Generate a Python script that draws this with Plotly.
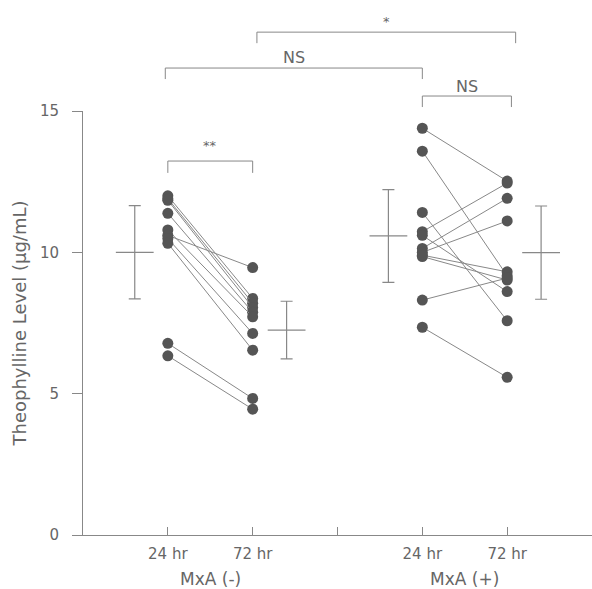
import plotly.graph_objects as go

# ---- data ----
neg_24 = [12.0, 11.9, 11.84, 11.38, 10.79, 10.6, 10.49, 10.32, 6.78, 6.34]
neg_72 = [8.37, 8.2, 8.05, 7.88, 7.72, 9.46, 7.13, 6.54, 4.83, 4.45]
pos_24 = [14.39, 13.58, 11.41, 10.73, 10.14, 10.0, 10.6, 9.85, 9.9, 8.31, 7.35]
pos_72 = [12.52, 9.17, 7.58, 12.45, 11.91, 11.11, 8.61, 9.02, 9.31, 9.09, 5.58]

x_pos = [1, 2, 4, 5]                      # 24 hr / 72 hr positions
tick_vals = [1, 2, 3, 4, 5, 6]
tick_text = ["24 hr", "72 hr", "", "24 hr", "72 hr", ""]
group_labels = ["MxA (-)", "MxA (+)"]
group_centers = [1.5, 4.5]

# summary (mean ± SD) bars, drawn beside each column
sum_x = [0.61, 2.4, 3.6, 5.4]
sum_mean = [10.0, 7.25, 10.58, 9.99]
sum_sd = [1.65, 1.02, 1.64, 1.65]

# significance brackets: (x0, x1, y_top, y_leg, label, label_y)
brackets = [
    (2.05, 5.1, 17.79, 17.40, "*", 18.15),
    (0.97, 4.0, 16.52, 16.13, "NS", 16.91),
    (4.0, 5.05, 15.53, 15.14, "NS", 15.88),
    (1.0, 2.0, 13.23, 12.81, "**", 13.78),
]

GRAY_TXT = "#666666"
GRAY_LN = "#888888"
DOT = "#555555"
FONT = "DejaVu Sans"

fig = go.Figure()

def add_group(xa, xb, a, b):
    for ya, yb in zip(a, b):
        fig.add_trace(go.Scatter(x=[xa, xb], y=[ya, yb], mode="lines+markers",
                                 line=dict(color=GRAY_LN, width=1),
                                 marker=dict(color=DOT, size=11),
                                 showlegend=False, hoverinfo="skip"))

add_group(x_pos[0], x_pos[1], neg_24, neg_72)
add_group(x_pos[2], x_pos[3], pos_24, pos_72)

fig.add_trace(go.Scatter(x=sum_x, y=sum_mean, mode="markers",
                         marker=dict(symbol="line-ew", size=27,
                                     line=dict(color=GRAY_LN, width=1.2)),
                         error_y=dict(type="data", array=sum_sd, visible=True,
                                      color=GRAY_LN, thickness=1.2, width=6),
                         showlegend=False, hoverinfo="skip"))

YMAX = 15.0
for x0, x1, yt, yl, lab, ly in brackets:
    fig.add_shape(type="path",
                  path=f"M {x0} {yl/YMAX} L {x0} {yt/YMAX} L {x1} {yt/YMAX} L {x1} {yl/YMAX}",
                  xref="x", yref="paper", line=dict(color=GRAY_LN, width=1))
    fig.add_annotation(x=(x0 + x1) / 2, y=ly / YMAX, xref="x", yref="paper",
                       text=lab, showarrow=False, yanchor="middle",
                       font=dict(family=FONT, size=16 if lab == "NS" else 13, color=GRAY_TXT))

for gx, gl in zip(group_centers, group_labels):
    fig.add_annotation(x=gx, y=-0.104, xref="x", yref="paper", text=gl,
                       showarrow=False, yanchor="middle",
                       font=dict(family=FONT, size=17, color=GRAY_TXT))

fig.update_layout(
    width=592, height=589,
    margin=dict(l=83, r=0, t=111, b=54),
    plot_bgcolor="white", paper_bgcolor="white",
    font=dict(family=FONT, color=GRAY_TXT),
    xaxis=dict(range=[0, 6], tickvals=tick_vals, ticktext=tick_text,
               ticks="inside", ticklen=8, tickcolor=GRAY_LN, showgrid=False,
               zeroline=False, showline=True, linecolor=GRAY_LN, linewidth=1,
               ticklabelstandoff=5,
               tickfont=dict(family=FONT, size=15, color=GRAY_TXT)),
    yaxis=dict(range=[0, 15], tickvals=[0, 5, 10, 15], ticks="outside",
               ticklen=10, tickcolor=GRAY_LN, showgrid=False, zeroline=False,
               showline=True, linecolor=GRAY_LN, linewidth=1,
               ticklabelstandoff=10,
               tickfont=dict(family=FONT, size=15, color=GRAY_TXT),
               title=dict(text="Theophylline Level (µg/mL)", standoff=8,
                          font=dict(family=FONT, size=18, color=GRAY_TXT))),
)

fig.write_html("out.html", config={"displayModeBar": False},
               post_script="document.body.style.margin='0';document.body.style.padding='0';")
